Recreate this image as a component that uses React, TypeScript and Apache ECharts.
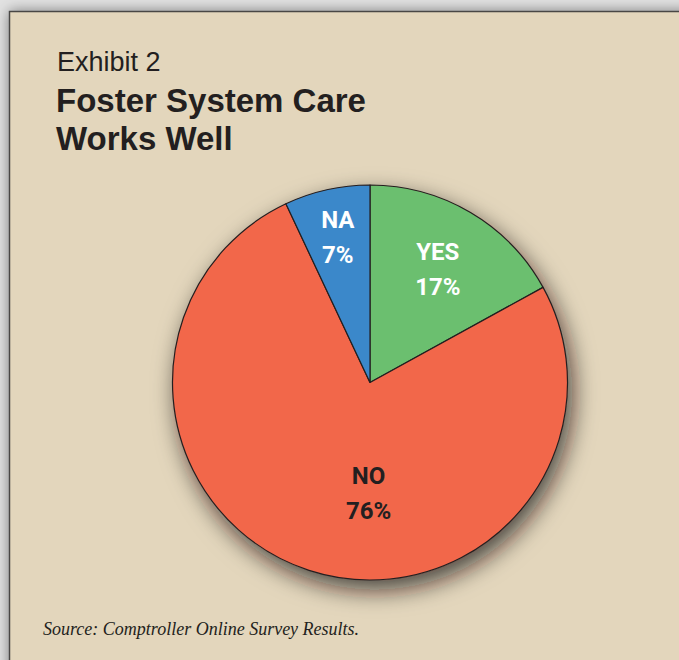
import React, { useEffect, useRef } from 'react';
import * as echarts from 'echarts';

const categories = ['YES', 'NO', 'NA'];
const shares = [17, 76, 7];
const sliceColors = ['#6BBF6F', '#F2674A', '#3B88CA'];
const labelColors = ['#FFFFFF', '#231F20', '#FFFFFF'];
const labelShift = [
  [16, -25],
  [30, 14],
  [-10, -46],
];

const exhibitText = 'Exhibit 2';
const titleLines = ['Foster System Care', 'Works Well'];
const sourceText = 'Source: Comptroller Online Survey Results.';

export default function App() {
  const ref = useRef<HTMLDivElement>(null);
  useEffect(() => {
    const chart = echarts.init(ref.current!, null, { renderer: 'svg' });
    chart.setOption({
      animation: false,
      backgroundColor: '#E2E2E2',
      graphic: [
        {
          type: 'rect',
          z: 0,
          shape: { x: 9.5, y: 11.5, width: 700, height: 700 },
          style: {
            fill: '#E3D6BC',
            stroke: '#4A4744',
            lineWidth: 1.5,
            shadowBlur: 14,
            shadowColor: 'rgba(0,0,0,0.45)',
          },
        },
        {
          type: 'text',
          z: 5,
          style: {
            text: exhibitText,
            x: 57,
            y: 62,
            verticalAlign: 'middle',
            font: '27px "Liberation Sans", Arial, sans-serif',
            lineHeight: 27,
            fill: '#231F20',
          },
        },
        ...titleLines.map((line, i) => ({
          type: 'text',
          z: 5,
          style: {
            text: line,
            x: 56,
            y: 100 + i * 38,
            verticalAlign: 'middle',
            font: 'bold 33px "Liberation Sans", Arial, sans-serif',
            lineHeight: 34,
            fill: '#231F20',
          },
        })),
        {
          type: 'text',
          z: 5,
          style: {
            text: sourceText,
            x: 43,
            y: 620,
            font: 'italic 18px "Liberation Serif", serif',
            fill: '#231F20',
          },
        },
      ],
      series: [
        {
          type: 'pie',
          z: 1,
          silent: true,
          center: [370, 382.5],
          radius: 197.5,
          label: { show: false },
          labelLine: { show: false },
          itemStyle: {
            color: '#F2674A',
            shadowBlur: 24,
            shadowOffsetX: 5,
            shadowOffsetY: 10,
            shadowColor: 'rgba(30,25,15,0.75)',
          },
          data: [{ value: 1, name: 'shadow' }],
        },
        {
          type: 'pie',
          z: 2,
          center: [370, 382.5],
          radius: 197.5,
          startAngle: 90,
          clockwise: true,
          itemStyle: { borderColor: '#231F20', borderWidth: 1.2 },
          label: {
            show: true,
            position: 'inside',
            fontFamily: 'Roboto, sans-serif',
            fontWeight: 'bold',
            fontSize: 24,
            lineHeight: 35,
            align: 'center',
            formatter: (p: any) => `${p.name}\n${p.value}%`,
          },
          labelLayout: (p: any) => ({
            dx: labelShift[p.dataIndex][0],
            dy: labelShift[p.dataIndex][1],
          }),
          data: categories.map((name, i) => ({
            name,
            value: shares[i],
            itemStyle: { color: sliceColors[i] },
            label: { color: labelColors[i] },
          })),
        },
      ],
    });
    return () => chart.dispose();
  }, []);
  return (
    <div
      ref={ref}
      style={{ position: 'fixed', left: 0, top: 0, width: 679, height: 660 }}
    />
  );
}
